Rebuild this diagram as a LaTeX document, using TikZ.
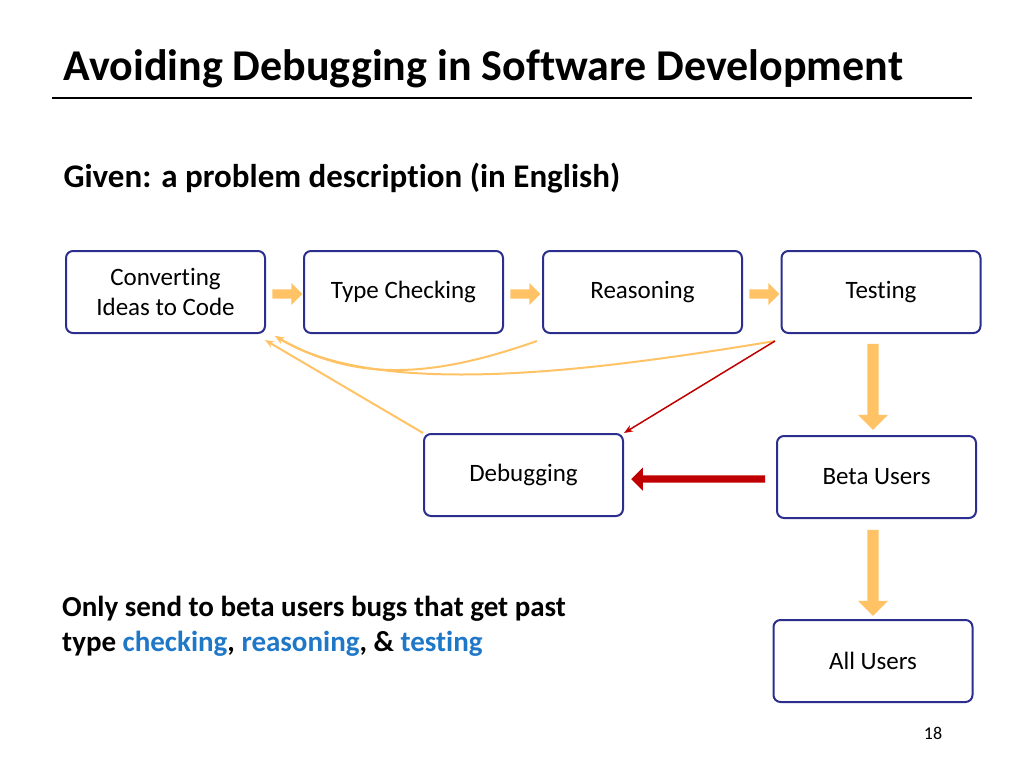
\documentclass[tikz,border=0pt]{standalone}
\usepackage{fontspec}
\setmainfont{Carlito}[Ligatures={TeX,NoCommon}]
\usetikzlibrary{shapes.arrows,arrows.meta}
\definecolor{navy}{HTML}{2B2E8C}
\definecolor{org}{HTML}{FFC366}
\definecolor{dred}{HTML}{C00000}
\definecolor{lblue}{HTML}{1F77C8}
\tikzset{
 box/.style={draw=navy,line width=2pt,rounded corners=7pt,minimum width=199pt,minimum height=82pt,align=center,font=\fontsize{25}{30}\selectfont},
 oarr/.style={single arrow,fill=org,draw=none,single arrow head extend=5pt},
 curve/.style={draw=org,line width=2pt,-{Stealth[length=9pt,width=7pt]}}
}
\begin{document}
\begin{tikzpicture}[x=1pt,y=-1pt]
\useasboundingbox (0,0) rectangle (1024,768);
\node[anchor=base west,font=\bfseries\fontsize{44}{50}\selectfont] (title) at (60,80) {Avoiding Debugging in Software Development};
\draw[line width=2.5pt] (52,98) coordinate (ul) -- (972,98) coordinate (ur);
\node[anchor=base west,font=\bfseries\fontsize{33}{38}\selectfont] (given) at (60,187) {Given: a problem description (in English)};
\node[box] (conv) at (165.5,292) {Converting\\Ideas to Code};
\node[box] (type) at (403.5,292) {Type Checking};
\node[box] (reas) at (642.5,292) {Reasoning};
\node[box] (test) at (881,292) {Testing};
\node[box] (debug) at (523.5,475) {Debugging};
\node[box] (beta) at (876.5,477) {Beta Users};
\node[box] (all) at (873,661) {All Users};
\node[oarr,minimum height=30pt,minimum width=22pt] (a1) at (285,294) {};
\node[oarr,minimum height=30pt,minimum width=22pt] (a2) at (523,294) {};
\node[oarr,minimum height=30pt,minimum width=22pt] (a3) at (762,294) {};
\node[oarr,shape border rotate=270,minimum height=86pt,minimum width=30pt,single arrow head extend=6pt] (d1) at (873,384) {};
\node[oarr,shape border rotate=270,minimum height=86pt,minimum width=30pt,single arrow head extend=6pt] (d2) at (873,570) {};
\node[single arrow,fill=dred,shape border rotate=180,minimum height=134pt,minimum width=18pt,single arrow head extend=8pt] (red) at (700,479) {};
\coordinate (rb) at (537,341);
\coordinate (tb) at (775,341);
\draw[curve] (debug.north west) -- (265,340);
\draw[curve] (rb) .. controls (440,375) and (360,385) .. (275,336);
\draw[curve] (tb) .. controls (600,370) and (380,400) .. (275,336);
\draw[dred,line width=1.5pt,-{Stealth[length=9pt,width=7pt]}] (tb) -- (debug.north east);
\node[anchor=north west,align=left,inner sep=0pt,font=\bfseries\fontsize{29}{35}\selectfont] (note) at (62,596) {Only send to beta users bugs that get past\\type \textcolor{lblue}{checking}, \textcolor{lblue}{reasoning}, \& \textcolor{lblue}{testing}};
\node[font=\fontsize{18}{20}\selectfont] (pg) at (933,733) {18};
\end{tikzpicture}
\end{document}
